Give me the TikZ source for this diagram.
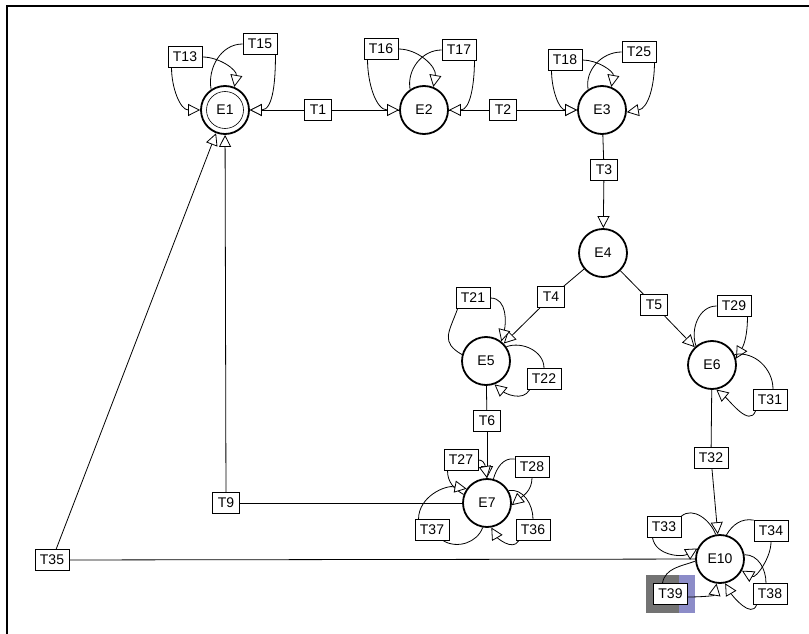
\documentclass[tikz,border=0pt]{standalone}
\usepackage{fontspec}
\setmainfont{Liberation Sans}
\usetikzlibrary{arrows.meta}
\definecolor{selblue}{RGB}{140,140,200}
\begin{document}
\begin{tikzpicture}[x=1pt,y=1pt,
  st/.style={circle,draw,line width=1.8pt,minimum size=48pt,inner sep=0pt,font=\fontsize{14}{14}\selectfont},
  tr/.style={draw,line width=0.8pt,fill=white,font=\fontsize{14}{14}\selectfont,minimum height=21pt,inner xsep=5pt,inner ysep=0pt},
  cn/.style={line width=0.8pt},
  ar/.style={cn,-{Triangle[length=12pt,width=12pt,fill=white,line width=0.8pt]}},
]
\useasboundingbox (0,0) rectangle (809,-634);
% frame
\draw[line width=2pt] (809,-6) -- (7,-6) -- (7,-634);

% selection highlight of T39
\fill[black!55] (646,-575) rectangle (695,-613);
\fill[selblue] (679,-575) rectangle (695,-613);

% states
\node[st] (E1) at (225,-110) {E1};
\node[circle,draw,line width=0.6pt,minimum size=37pt,inner sep=0pt] (E1in) at (E1) {};
\node[st] (E2) at (424,-110) {E2};
\node[st] (E3) at (602,-110) {E3};
\node[st] (E4) at (603,-253) {E4};
\node[st] (E5) at (486,-361) {E5};
\node[st] (E6) at (712,-365) {E6};
\node[st] (E7) at (487,-503) {E7};
\node[st] (E10) at (720,-559) {E10};

% transitions
\node[tr] (T1) at (318,-110) {T1};
\node[tr] (T2) at (503,-110) {T2};
\node[tr] (T3) at (604,-170) {T3};
\node[tr] (T4) at (551,-297) {T4};
\node[tr] (T5) at (654,-305) {T5};
\node[tr] (T6) at (487,-421) {T6};
\node[tr] (T9) at (226,-503) {T9};
\node[tr] (T32) at (711,-458) {T32};
\node[tr] (T35) at (52,-560) {T35};
\node[tr] (T13) at (185,-57) {T13};
\node[tr] (T15) at (260,-44) {T15};
\node[tr] (T16) at (381,-49) {T16};
\node[tr] (T17) at (459,-50) {T17};
\node[tr] (T18) at (565,-60) {T18};
\node[tr] (T25) at (639,-52) {T25};
\node[tr] (T21) at (473,-298) {T21};
\node[tr] (T22) at (544,-379) {T22};
\node[tr] (T29) at (734,-306) {T29};
\node[tr] (T31) at (770,-400) {T31};
\node[tr] (T27) at (461,-460) {T27};
\node[tr] (T28) at (532,-467) {T28};
\node[tr] (T37) at (432,-530) {T37};
\node[tr] (T36) at (533,-530) {T36};
\node[tr] (T33) at (664,-527) {T33};
\node[tr] (T34) at (771,-531) {T34};
\node[tr] (T39) at (670.5,-594) {T39};
\node[tr] (T38) at (770,-594) {T38};

% straight connectors
\draw[cn] (E2) -- (T1); \draw[ar] (T1) -- (E1);
\draw[cn] (E2) -- (T2); \draw[ar] (T2) -- (E3);
\draw[cn] (E3) -- (T3); \draw[ar] (T3) -- (E4);
\draw[cn] (E4) -- (T4); \draw[ar] (T4) -- (E5);
\draw[cn] (E4) -- (T5); \draw[ar] (T5) -- (E6);
\draw[cn] (E5) -- (T6); \draw[ar] (T6) -- (E7);
\draw[cn] (E6) -- (T32); \draw[ar] (T32) -- (E10);
\draw[cn] (E7) -- (T9); \draw[ar] (T9) -- (E1);
\draw[cn] (E10) -- (T35); \draw[ar] (T35) -- (E1);

% loops at E1
\draw[ar] ([xshift=4pt]T13.south west) to[out=-90,in=180] (E1.west);
\draw[ar] (T13.east) to[out=0,in=80] (E1.68);
\draw[cn] (E1.124) to[out=100,in=180] (T15.west);
\draw[ar] ([xshift=-2pt]T15.south east) to[out=-90,in=0] (E1.east);
% loops at E2
\draw[ar] ([xshift=4pt]T16.south west) to[out=-90,in=180] (E2.west);
\draw[ar] (T16.east) to[out=0,in=80] (E2.68);
\draw[cn] (E2.124) to[out=100,in=180] (T17.west);
\draw[ar] ([xshift=-2pt]T17.south east) to[out=-90,in=0] (E2.east);
% loops at E3
\draw[ar] ([xshift=4pt]T18.south west) to[out=-90,in=180] (E3.west);
\draw[ar] (T18.east) to[out=0,in=80] (E3.68);
\draw[cn] (E3.124) to[out=100,in=180] (T25.west);
\draw[ar] ([xshift=-2pt]T25.south east) to[out=-90,in=10] (E3.-5);
% loops at E5
\draw[cn] (E5.165) to[out=150,in=-110,looseness=1.4] ([xshift=2pt]T21.south west);
\draw[ar] (T21.east) to[out=0,in=75] (E5.52);
\draw[cn] (E5.35) to[out=20,in=90] (T22.north);
\draw[ar] ([xshift=3pt]T22.south west) to[out=-120,in=-40] (E5.-70);
% loops at E6
\draw[cn] (E6.130) to[out=110,in=180] (T29.west);
\draw[ar] ([xshift=-4pt]T29.south east) to[out=-90,in=60] (E6.15);
\draw[cn] (E6.25) to[out=10,in=90] ([xshift=3pt]T31.north);
\draw[ar] ([xshift=3pt]T31.south west) to[out=-110,in=-40] (E6.-80);
% loops at E7
\draw[cn] (E7.160) to[out=150,in=-90] ([xshift=4pt]T27.south west);
\draw[ar] (T27.east) to[out=0,in=100] (E7.90);
\draw[cn] (E7.75) to[out=75,in=170] ([yshift=-3pt]T28.north west);
\draw[ar] (T28.south) to[out=-90,in=40] (E7.-5);
\draw[cn] (E7.-100) to[out=-110,in=-30] ([xshift=-6pt]T37.south east);
\draw[ar] ([xshift=4pt]T37.north west) to[out=90,in=170] (E7.145);
\draw[cn] (E7.30) to[out=10,in=90] (T36.north);
\draw[ar] ([xshift=3pt]T36.south west) to[out=-120,in=-60] (E7.-80);
% loops at E10
\draw[cn] (E10.100) to[out=110,in=40] (T33.north east);
\draw[ar] ([xshift=6pt]T33.south west) to[out=-80,in=210] (E10.155);
\draw[cn] (E10.75) to[out=60,in=170] (T34.north west);
\draw[ar] (T34.south) to[out=-90,in=-30] (E10.-28);
\draw[cn] (E10.10) to[out=0,in=90] ([xshift=-4pt]T38.north);
\draw[ar] ([xshift=4pt]T38.south west) to[out=-110,in=-60] (E10.-78);
\draw[cn] (E10.185) to[out=200,in=80] ([xshift=-8pt]T39.north);
\draw[ar] ([yshift=-3pt]T39.east) to[out=0,in=-100] (E10.-98);
\end{tikzpicture}
\end{document}
